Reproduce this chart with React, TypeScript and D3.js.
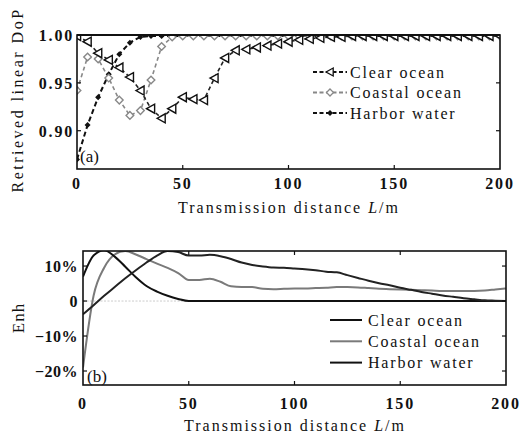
import React from "react";
import * as d3 from "d3";

const distances = [0, 5, 10, 15, 20, 25, 30, 35, 40, 45, 50, 55, 60, 65, 70, 75, 80, 85, 90, 95, 100, 105, 110, 115, 120, 125, 130, 135, 140, 145, 150, 155, 160, 165, 170, 175, 180, 185, 190, 195, 200];

const dopClear = [0.999, 0.993, 0.981, 0.974, 0.966, 0.956, 0.942, 0.923, 0.913, 0.923, 0.935, 0.933, 0.932, 0.955, 0.976, 0.984, 0.985, 0.987, 0.989, 0.991, 0.993, 0.995, 0.996, 0.997, 0.998, 0.998, 0.999, 0.999, 0.999, 0.999, 0.999, 0.999, 0.999, 0.999, 0.999, 0.999, 0.999, 0.999, 0.999, 0.999, 0.999];
const dopCoastal = [0.942, 0.977, 0.975, 0.955, 0.932, 0.916, 0.921, 0.953, 0.988, 0.998, 0.999, 0.999, 0.999, 0.999, 0.999, 0.999, 0.999, 0.999, 0.999, 0.999, 0.999, 0.999, 0.999, 0.999, 0.999, 0.999, 0.999, 0.999, 0.999, 0.999, 0.999, 0.999, 0.999, 0.999, 0.999, 0.999, 0.999, 0.999, 0.999, 0.999, 0.999];
const dopHarbor = [0.870, 0.906, 0.935, 0.959, 0.980, 0.992, 0.998, 0.999, 0.999, 0.999, 0.999, 0.999, 0.999, 0.999, 0.999, 0.999, 0.999, 0.999, 0.999, 0.999, 0.999, 0.999, 0.999, 0.999, 0.999, 0.999, 0.999, 0.999, 0.999, 0.999, 0.999, 0.999, 0.999, 0.999, 0.999, 0.999, 0.999, 0.999, 0.999, 0.999, 0.999];

const enhClear = [-3.8, -1.2, 1.5, 4, 6.5, 8.8, 11, 13, 14.3, 14, 13, 13, 13.2, 12.8, 12, 11, 10.3, 9.9, 9.6, 9.5, 9.3, 9.1, 8.8, 8.4, 8.2, 7.4, 6.6, 5.8, 5.1, 4.5, 3.8, 3.2, 2.6, 2.1, 1.6, 1.2, 0.8, 0.5, 0.2, 0.1, 0];
const enhCoastal = [-19, 1.5, 9.5, 13.3, 14.3, 13.3, 12, 10.7, 9.5, 8, 6, 6, 6.4, 5.5, 4.2, 4, 4, 3.5, 3.4, 3.5, 3.6, 3.6, 3.7, 3.8, 4, 4, 3.9, 3.7, 3.5, 3.4, 3.3, 3.2, 3.1, 3, 2.9, 2.9, 2.9, 2.9, 3.0, 3.3, 3.6];
const enhHarbor = [7, 13, 14.5, 12.7, 9.8, 6.8, 4.3, 2.7, 1.5, 0.6, 0, 0, 0, 0, 0, 0, 0, 0, 0, 0, 0, 0, 0, 0, 0, 0, 0, 0, 0, 0, 0, 0, 0, 0, 0, 0, 0, 0, 0, 0, 0];

const xTicks = [0, 50, 100, 150, 200];
const dopTicks = [1.0, 0.95, 0.9];
const dopTickLabels = ["1.00", "0.95", "0.90"];
const enhTicks = [10, 0, -10, -20];
const enhTickLabels = ["10%", "0", "\u221210%", "\u221220%"];
const seriesNames = ["Clear ocean", "Coastal ocean", "Harbor water"];

const FONT = "'Liberation Serif', 'DejaVu Serif', serif";

export default function App() {
  // Top panel
  const ax = d3.scaleLinear().domain([0, 200]).range([77, 500]);
  const ay = d3.scaleLinear().domain([0.86, 1.0]).range([169, 35]);
  // Bottom panel
  const bx = d3.scaleLinear().domain([0, 200]).range([83, 506]);
  const by = d3.scaleLinear().domain([-24, 14.3]).range([385, 251]);

  const topLine = (vals: number[]) =>
    d3.line<number>().x((_, i) => ax(distances[i])).y((v) => ay(v))(vals) || "";
  const botLine = (vals: number[]) =>
    d3.line<number>().x((_, i) => bx(distances[i])).y((v) => by(v)).curve(d3.curveMonotoneX)(vals) || "";

  const triLeft = (cx: number, cy: number, s = 4.5) =>
    `M${cx - s},${cy} L${cx + s * 0.8},${cy - s} L${cx + s * 0.8},${cy + s} Z`;
  const diamond = (cx: number, cy: number, s = 3.8) =>
    `M${cx},${cy - s} L${cx + s},${cy} L${cx},${cy + s} L${cx - s},${cy} Z`;

  const [a0, a1] = ax.range();
  const [ab, at] = ay.range();
  const [b0, b1] = bx.range();
  const [bb, bt] = by.range();

  const textStyle = { fontFamily: FONT, fontSize: 16, letterSpacing: "1.8px", fill: "#111" } as const;

  return (
    <svg width={527} height={436} style={{ position: "absolute", left: 0, top: 0, background: "#fff" }}>
      <defs>
        <clipPath id="clipA">
          <rect x={a0} y={at} width={a1 - a0} height={ab - at} />
        </clipPath>
        <clipPath id="clipB">
          <rect x={b0} y={bt} width={b1 - b0} height={bb - bt} />
        </clipPath>
      </defs>
      <rect x={0} y={0} width={527} height={436} fill="#fff" />

      {/* ===== Panel (a) ===== */}
      <g clipPath="url(#clipA)">
        <path d={topLine(dopHarbor)} fill="none" stroke="#111" strokeWidth={2} strokeDasharray="5,3" />
        <path d={topLine(dopCoastal)} fill="none" stroke="#888" strokeWidth={1.6} strokeDasharray="4,3" />
        <path d={topLine(dopClear)} fill="none" stroke="#222" strokeWidth={1.6} strokeDasharray="4,3" />
        {dopHarbor.map((v, i) => (
          <path key={"h" + i} d={diamond(ax(distances[i]), ay(v), 3)} fill="#111" />
        ))}
        {dopCoastal.map((v, i) => (
          <path key={"c" + i} d={diamond(ax(distances[i]), ay(v))} fill="#fff" stroke="#888" strokeWidth={1.4} />
        ))}
        {dopClear.map((v, i) => (
          <path key={"t" + i} d={triLeft(ax(distances[i]), ay(v))} fill="#fff" stroke="#111" strokeWidth={1.4} />
        ))}
      </g>
      <rect x={a0} y={at} width={a1 - a0} height={ab - at} fill="none" stroke="#111" strokeWidth={1.6} />
      <line x1={a0} x2={a1} y1={at} y2={at} stroke="#111" strokeWidth={2.2} />
      {xTicks.slice(1, -1).map((t) => (
        <line key={"axt" + t} x1={ax(t)} x2={ax(t)} y1={ab} y2={ab - 4} stroke="#111" strokeWidth={1.2} />
      ))}
      {dopTicks.slice(1).map((t) => (
        <g key={"ayt" + t}>
          <line x1={a0} x2={a0 + 4} y1={ay(t)} y2={ay(t)} stroke="#111" strokeWidth={1.2} />
          <line x1={a1} x2={a1 - 4} y1={ay(t)} y2={ay(t)} stroke="#111" strokeWidth={1.2} />
        </g>
      ))}
      {xTicks.map((t) => (
        <text key={"axl" + t} x={ax(t)} y={189} textAnchor="middle" style={{ ...textStyle, fontWeight: 700, fontSize: 16 }}>
          {t}
        </text>
      ))}
      {dopTicks.map((t, i) => (
        <text key={"ayl" + t} x={74} y={ay(t) + 6} textAnchor="end" style={{ ...textStyle, fontWeight: 700 }}>
          {dopTickLabels[i]}
        </text>
      ))}
      <text x={289} y={213} textAnchor="middle" style={{ ...textStyle, letterSpacing: "2px" }}>
        Transmission distance <tspan fontStyle="italic">L</tspan>/m
      </text>
      <text
        transform={`translate(23, ${100}) rotate(-90)`}
        textAnchor="middle"
        style={{ ...textStyle, letterSpacing: "2.5px" }}
      >
        Retrieved linear DoP
      </text>
      <text x={80} y={162} style={{ ...textStyle, fontSize: 17, letterSpacing: "0px" }}>(a)</text>

      {/* Legend (a) */}
      {seriesNames.map((name, i) => {
        const ly = 72 + i * 20.5;
        const stroke = i === 1 ? "#888" : "#111";
        return (
          <g key={"la" + i}>
            <line x1={313} x2={347} y1={ly} y2={ly} stroke={stroke} strokeWidth={1.8} strokeDasharray="4,2.5" />
            {i === 0 && <path d={triLeft(330, ly, 4)} fill="#fff" stroke="#111" strokeWidth={1.3} />}
            {i === 1 && <path d={diamond(330, ly, 3.5)} fill="#fff" stroke="#888" strokeWidth={1.3} />}
            {i === 2 && <path d={diamond(330, ly, 3)} fill="#111" />}
            <text x={350} y={ly + 5.5} style={textStyle}>{name}</text>
          </g>
        );
      })}

      {/* ===== Panel (b) ===== */}
      <line x1={b0} x2={b1} y1={by(0)} y2={by(0)} stroke="#ccc" strokeWidth={1} strokeDasharray="2,1.5" />
      <g clipPath="url(#clipB)">
        <path d={botLine(enhCoastal)} fill="none" stroke="#7a7a7a" strokeWidth={2} />
        <path d={botLine(enhHarbor)} fill="none" stroke="#111" strokeWidth={2} />
        <path d={botLine(enhClear)} fill="none" stroke="#222" strokeWidth={2} />
      </g>
      <rect x={b0} y={bt} width={b1 - b0} height={bb - bt} fill="none" stroke="#111" strokeWidth={1.6} />
      {xTicks.slice(1, -1).map((t) => (
        <g key={"bxt" + t}>
          <line x1={bx(t)} x2={bx(t)} y1={bb} y2={bb - 4} stroke="#111" strokeWidth={1.2} />
          <line x1={bx(t)} x2={bx(t)} y1={bt} y2={bt + 4} stroke="#111" strokeWidth={1.2} />
        </g>
      ))}
      {enhTicks.map((t) => (
        <g key={"byt" + t}>
          <line x1={b0} x2={b0 + 4} y1={by(t)} y2={by(t)} stroke="#111" strokeWidth={1.2} />
          <line x1={b1} x2={b1 - 4} y1={by(t)} y2={by(t)} stroke="#111" strokeWidth={1.2} />
        </g>
      ))}
      {xTicks.map((t) => (
        <text key={"bxl" + t} x={bx(t)} y={409} textAnchor="middle" style={{ ...textStyle, fontWeight: 700 }}>
          {t}
        </text>
      ))}
      {enhTicks.map((t, i) => (
        <text key={"byl" + t} x={78} y={by(t) + 6} textAnchor="end" style={{ ...textStyle, fontWeight: 700, letterSpacing: "0.5px" }}>
          {enhTickLabels[i]}
        </text>
      ))}
      <text x={295} y={431} textAnchor="middle" style={{ ...textStyle, letterSpacing: "2px" }}>
        Transmission distance <tspan fontStyle="italic">L</tspan>/m
      </text>
      <text transform={`translate(24, 318) rotate(-90)`} textAnchor="middle" style={{ ...textStyle, fontSize: 17, letterSpacing: "1px" }}>
        Enh
      </text>
      <text x={87} y={382} style={{ ...textStyle, fontSize: 17, letterSpacing: "0px" }}>(b)</text>

      {/* Legend (b) */}
      {seriesNames.map((name, i) => {
        const ly = 320 + i * 21.3;
        const stroke = i === 1 ? "#7a7a7a" : "#111";
        return (
          <g key={"lb" + i}>
            <line x1={330} x2={362} y1={ly} y2={ly} stroke={stroke} strokeWidth={2} />
            <text x={368} y={ly + 5.5} style={textStyle}>{name}</text>
          </g>
        );
      })}
    </svg>
  );
}
